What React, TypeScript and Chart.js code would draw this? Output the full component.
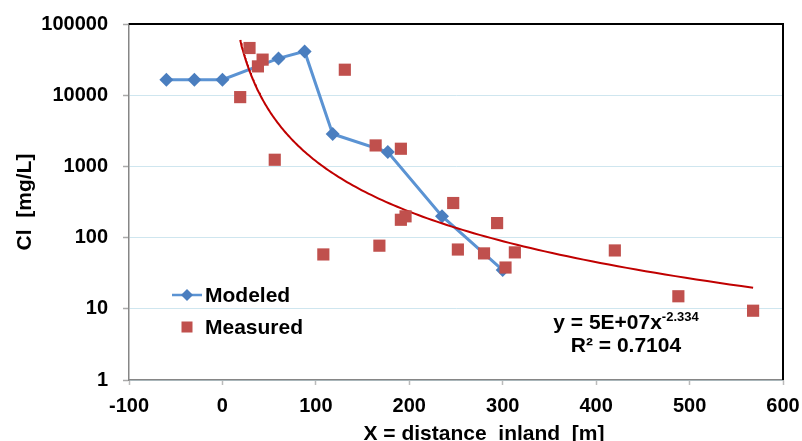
import { useEffect, useRef } from "react";
import { Chart, registerables } from "chart.js";

Chart.register(...registerables);

// ---------- data ----------
const modeledX = [-60, -30, 0, 60, 88, 118, 177, 235, 300];
const modeledY = [16500, 16500, 16500, 32900, 41200, 2850, 1590, 200, 35];

const measuredX = [19, 29, 38, 43, 56, 108, 131, 164, 168, 191, 191, 196, 247, 252, 280, 294, 303, 313, 420, 488, 568];
const measuredY = [9400, 46000, 25400, 31600, 1240, 58, 22800, 1970, 77, 1770, 178, 199, 306, 68, 60, 160, 38, 62, 66, 15, 9.4];

const xTicks = [-100, 0, 100, 200, 300, 400, 500, 600];
const yTicks = [1, 10, 100, 1000, 10000, 100000];

const modeledLabel = "Modeled";
const measuredLabel = "Measured";
const xTitle = "X = distance  inland  [m]";
const yTitle = "Cl  [mg/L]";
const eqMain = "y = 5E+07x";
const eqExp = "-2.334";
const eqR2 = "R\u00B2 = 0.7104";

// ---------- styles ----------
const FONT = '"Liberation Sans", Arial, sans-serif';
const LINE_BLUE = "#5b93d3";
const DIAMOND_BLUE = "#4a7ebf";
const SQUARE_RED = "#c0504d";
const TREND_RED = "#c00000";
const GRID_BLUE = "#cfe6ef";
const AXIS_GRAY = "#868686";

// Power-law least squares (as a spreadsheet trendline does), from the measured data
function powerFit(xs: number[], ys: number[]) {
  const lx = xs.map(Math.log);
  const ly = ys.map(Math.log);
  const n = xs.length;
  const mx = lx.reduce((s, v) => s + v, 0) / n;
  const my = ly.reduce((s, v) => s + v, 0) / n;
  let sxx = 0;
  let sxy = 0;
  for (let i = 0; i < n; i++) {
    sxx += (lx[i] - mx) * (lx[i] - mx);
    sxy += (lx[i] - mx) * (ly[i] - my);
  }
  const b = sxy / sxx;
  const a = Math.exp(my - b * mx);
  return { a, b };
}

function trendPoints() {
  const { a, b } = powerFit(measuredX, measuredY);
  const x0 = Math.min(...measuredX);
  const x1 = Math.max(...measuredX);
  const pts: { x: number; y: number }[] = [];
  const N = 150;
  for (let i = 0; i <= N; i++) {
    const x = x0 * Math.pow(x1 / x0, i / N);
    pts.push({ x, y: a * Math.pow(x, b) });
  }
  return pts;
}

const decorPlugin = {
  id: "decor",
  afterDraw(chart: any) {
    const ctx = chart.ctx as CanvasRenderingContext2D;
    const { left, right, top, bottom } = chart.chartArea;
    ctx.save();

    // top and right frame
    ctx.strokeStyle = "#000";
    ctx.lineWidth = 2;
    ctx.beginPath();
    ctx.moveTo(left, top);
    ctx.lineTo(right, top);
    ctx.lineTo(right, bottom);
    ctx.stroke();

    ctx.fillStyle = "#000";

    // y title
    ctx.save();
    ctx.translate(25, (top + bottom) / 2);
    ctx.rotate(-Math.PI / 2);
    ctx.font = `bold 21px ${FONT}`;
    ctx.textAlign = "center";
    ctx.textBaseline = "middle";
    ctx.fillText(yTitle, 0, 0);
    ctx.restore();

    // x title
    ctx.font = `bold 21px ${FONT}`;
    ctx.textAlign = "center";
    ctx.textBaseline = "alphabetic";
    ctx.fillText(xTitle, 484, 440);

    // legend
    const lx = 187;
    const y1 = 295;
    const y2 = 327;
    ctx.strokeStyle = LINE_BLUE;
    ctx.lineWidth = 2.5;
    ctx.beginPath();
    ctx.moveTo(lx - 15, y1);
    ctx.lineTo(lx + 15, y1);
    ctx.stroke();
    ctx.fillStyle = DIAMOND_BLUE;
    ctx.beginPath();
    ctx.moveTo(lx, y1 - 6);
    ctx.lineTo(lx + 6, y1);
    ctx.lineTo(lx, y1 + 6);
    ctx.lineTo(lx - 6, y1);
    ctx.closePath();
    ctx.fill();
    ctx.fillStyle = SQUARE_RED;
    ctx.fillRect(lx - 5.5, y2 - 5.5, 11, 11);

    ctx.fillStyle = "#000";
    ctx.font = `bold 21px ${FONT}`;
    ctx.textAlign = "left";
    ctx.textBaseline = "middle";
    ctx.fillText(modeledLabel, 205, y1 + 1);
    ctx.fillText(measuredLabel, 205, y2 + 1);

    // equation
    const cx = 626;
    ctx.textBaseline = "alphabetic";
    ctx.font = `bold 21px ${FONT}`;
    const wMain = ctx.measureText(eqMain).width;
    ctx.font = `bold 13px ${FONT}`;
    const wExp = ctx.measureText(eqExp).width;
    const startX = cx - (wMain + wExp) / 2;
    ctx.font = `bold 21px ${FONT}`;
    ctx.textAlign = "left";
    ctx.fillText(eqMain, startX, 329);
    ctx.font = `bold 13px ${FONT}`;
    ctx.fillText(eqExp, startX + wMain, 321);
    ctx.font = `bold 21px ${FONT}`;
    ctx.textAlign = "center";
    ctx.fillText(eqR2, cx, 352);

    ctx.restore();
  },
};

export default function App() {
  const ref = useRef<HTMLCanvasElement | null>(null);

  useEffect(() => {
    if (!ref.current) return;
    const chart = new Chart(ref.current, {
      type: "scatter",
      data: {
        datasets: [
          {
            label: measuredLabel,
            data: measuredX.map((x, i) => ({ x, y: measuredY[i] })),
            showLine: false,
            pointStyle: "rect",
            pointRadius: 8.6,
            pointBackgroundColor: SQUARE_RED,
            pointBorderWidth: 0,
            borderColor: SQUARE_RED,
            backgroundColor: SQUARE_RED,
            order: 0,
          },
          {
            label: "trend",
            data: trendPoints(),
            showLine: true,
            pointRadius: 0,
            borderColor: TREND_RED,
            borderWidth: 2,
            tension: 0,
            order: 1,
          },
          {
            label: modeledLabel,
            data: modeledX.map((x, i) => ({ x, y: modeledY[i] })),
            showLine: true,
            borderColor: LINE_BLUE,
            borderWidth: 3,
            pointStyle: "rectRot",
            pointRadius: 7,
            pointBackgroundColor: DIAMOND_BLUE,
            pointBorderColor: DIAMOND_BLUE,
            pointBorderWidth: 0,
            order: 2,
          },
        ],
      },
      options: {
        responsive: false,
        animation: false,
        devicePixelRatio: 1,
        layout: { padding: { left: 0, top: 24, right: 19, bottom: 0 } },
        plugins: {
          legend: { display: false },
          tooltip: { enabled: false },
        },
        scales: {
          x: {
            type: "linear",
            min: -100,
            max: 600,
            afterBuildTicks: (scale: any) => {
              scale.ticks = xTicks.map((v) => ({ value: v }));
            },
            afterFit: (scale: any) => {
              scale.height = 61;
              scale.paddingLeft = 0;
              scale.paddingRight = 0;
            },
            grid: {
              drawOnChartArea: false,
              drawTicks: true,
              tickLength: 5,
              tickColor: "#bbbbbb",
              tickWidth: 1.5,
            },
            border: { color: AXIS_GRAY, width: 1.5 },
            ticks: {
              padding: 9,
              color: "#000",
              font: { family: FONT, size: 20, weight: "bold" },
              callback: (v: any) => String(v),
              maxRotation: 0,
            },
          },
          y: {
            type: "logarithmic",
            min: 1,
            max: 100000,
            afterBuildTicks: (scale: any) => {
              scale.ticks = yTicks.map((v) => ({ value: v }));
            },
            afterFit: (scale: any) => {
              scale.width = 129;
              scale.paddingTop = 0;
              scale.paddingBottom = 0;
            },
            grid: {
              color: GRID_BLUE,
              lineWidth: 1,
              drawTicks: true,
              tickLength: 6,
              tickColor: "#aaaaaa",
              tickWidth: 1.5,
            },
            border: { color: AXIS_GRAY, width: 1.5 },
            ticks: {
              padding: 15,
              color: "#000",
              font: { family: FONT, size: 20, weight: "bold" },
              callback: (v: any) => String(v),
            },
          },
        },
      },
      plugins: [decorPlugin],
    });
    return () => chart.destroy();
  }, []);

  return (
    <div style={{ position: "fixed", left: 0, top: 0, width: 802, height: 441, background: "#fff" }}>
      <canvas ref={ref} width={802} height={441} style={{ display: "block" }} />
    </div>
  );
}
